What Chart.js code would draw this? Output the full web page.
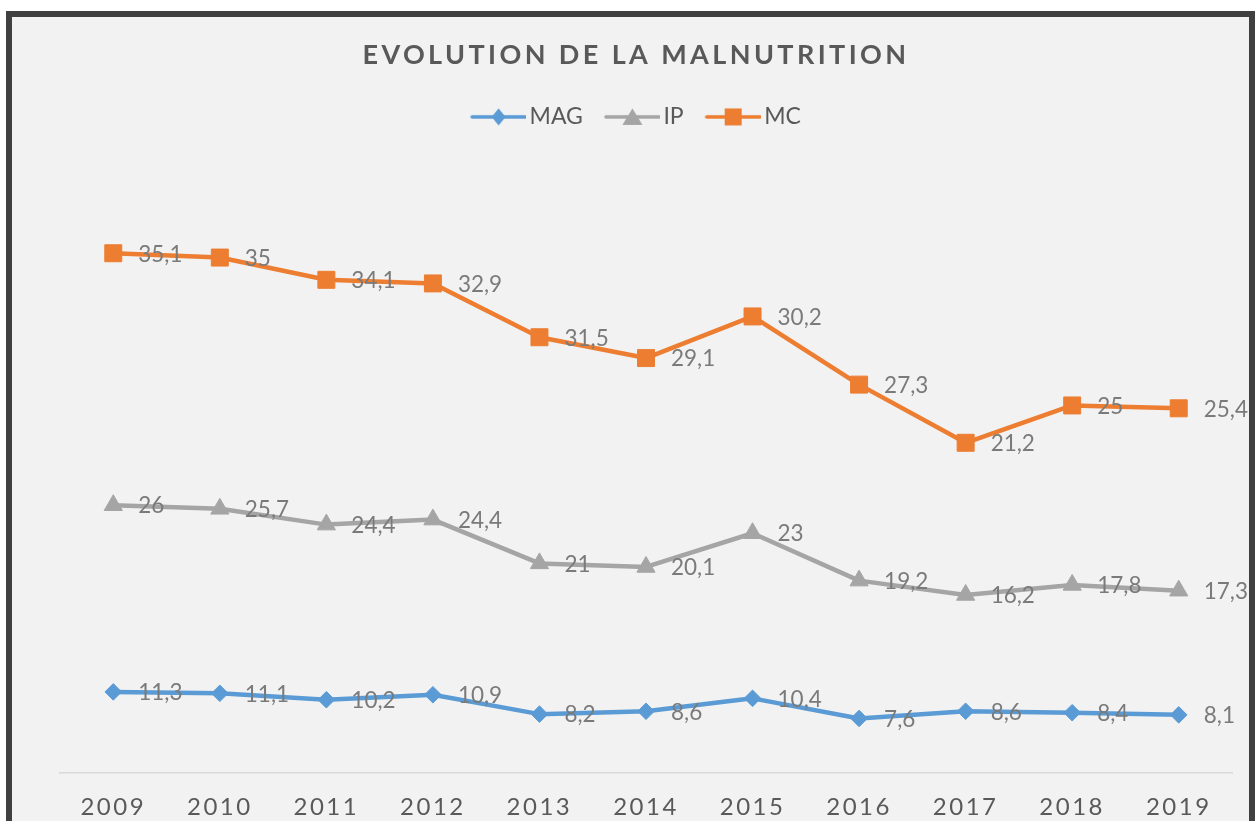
<!DOCTYPE html>
<html lang="fr">
<head>
<meta charset="utf-8">
<title>Evolution de la malnutrition</title>
<script src="https://cdn.jsdelivr.net/npm/chart.js@4.4.1/dist/chart.umd.min.js"></script>
<style>
    html, body { margin: 0; padding: 0; background: #ffffff; overflow: hidden; }
    #cadre {
        position: absolute;
        left: 6px;
        top: 11px;
        width: 1237px;
        height: 830px;
        border: 6px solid #404040;
        background: #f2f2f2;
    }
    #graphe { display: block; }
</style>
</head>
<body>
<div id="cadre">
    <canvas id="graphe" width="1237" height="804"></canvas>
</div>
<script>
// Données
const annees = ['2009', '2010', '2011', '2012', '2013', '2014', '2015', '2016', '2017', '2018', '2019'];
const mag = [11.3, 11.1, 10.2, 10.9, 8.2, 8.6, 10.4, 7.6, 8.6, 8.4, 8.1];
const ip = [26, 25.7, 24.4, 24.4, 21, 20.1, 23, 19.2, 16.2, 17.8, 17.3];
const mc = [35.1, 35, 34.1, 32.9, 31.5, 29.1, 30.2, 27.3, 21.2, 25, 25.4];

const bleu = '#5b9bd5';
const gris = '#a5a5a5';
const orange = '#ed7d31';
const texte = '#595959';
const police = 'Lato, "Open Sans", sans-serif';

// petite image ligne + marqueur pour la légende
function iconeLegende(couleur, forme) {
    const c = document.createElement('canvas');
    c.width = 63;
    c.height = 24;
    const ctx = c.getContext('2d');
    ctx.strokeStyle = couleur;
    ctx.fillStyle = couleur;
    ctx.lineWidth = 3.5;
    ctx.lineCap = 'round';
    ctx.beginPath();
    ctx.moveTo(9, 12);
    ctx.lineTo(62, 12);
    ctx.stroke();
    const cx = 35.5, cy = 12;
    ctx.beginPath();
    if (forme === 'losange') {
        ctx.moveTo(cx, cy - 8.5);
        ctx.lineTo(cx + 7, cy);
        ctx.lineTo(cx, cy + 8.5);
        ctx.lineTo(cx - 7, cy);
    } else if (forme === 'triangle') {
        ctx.moveTo(cx, cy - 8.5);
        ctx.lineTo(cx + 10, cy + 8);
        ctx.lineTo(cx - 10, cy + 8);
    } else {
        ctx.rect(cx - 8.5, cy - 8.5, 17, 17);
    }
    ctx.closePath();
    ctx.fill();
    return c;
}

const icones = [iconeLegende(bleu, 'losange'), iconeLegende(gris, 'triangle'), iconeLegende(orange, 'carre')];

function virgule(v) {
    return String(v).replace('.', ',');
}

// étiquettes de valeurs à droite des points
const etiquettes = {
    id: 'etiquettes',
    afterDatasetsDraw(chart) {
        const ctx = chart.ctx;
        ctx.save();
        ctx.font = '22.5px ' + police;
        ctx.fillStyle = '#7a7a7a';
        ctx.textAlign = 'left';
        ctx.textBaseline = 'middle';
        chart.data.datasets.forEach((ds, i) => {
            const meta = chart.getDatasetMeta(i);
            meta.data.forEach((pt, j) => {
                ctx.fillText(virgule(ds.data[j]), pt.x + 25, pt.y + 1);
            });
        });
        ctx.restore();
    }
};

// espacement des lettres pour le titre et l'axe
function espacer(obj, nom, px) {
    if (!obj || obj['_espace_' + nom]) return;
    const orig = obj[nom];
    obj[nom] = function (...args) {
        const ctx = this.ctx;
        const avant = ctx.letterSpacing;
        ctx.letterSpacing = px;
        orig.apply(this, args);
        ctx.letterSpacing = avant || '0px';
    };
    obj['_espace_' + nom] = true;
}

const espacement = {
    id: 'espacement',
    beforeDraw(chart) {
        espacer(chart.titleBlock, 'draw', '3.4px');
        espacer(chart.scales.x, 'drawLabels', '2.5px');
    }
};

new Chart(document.getElementById('graphe'), {
    type: 'line',
    data: {
        labels: annees,
        datasets: [
            { label: 'MAG', data: mag, borderColor: bleu, backgroundColor: bleu, pointStyle: 'rectRot', pointRadius: 8.3, pointBorderWidth: 1 },
            { label: 'IP', data: ip, borderColor: gris, backgroundColor: gris, pointStyle: 'triangle', pointRadius: 10.5, pointBorderWidth: 1 },
            { label: 'MC', data: mc, borderColor: orange, backgroundColor: orange, pointStyle: 'rect', pointRadius: 12, pointBorderWidth: 1 }
        ].map(d => Object.assign(d, { borderWidth: 4.5, tension: 0, fill: false, borderJoinStyle: 'round', borderCapStyle: 'round' }))
    },
    options: {
        responsive: false,
        animation: false,
        events: [],
        layout: { padding: { left: 28, right: 17, top: 0, bottom: 0 } },
        scales: {
            x: {
                offset: true,
                grid: { drawOnChartArea: false, drawTicks: false },
                border: { display: true, color: '#d9d9d9', width: 1.5 },
                ticks: { color: texte, font: { family: police, size: 24 }, padding: 20 },
                afterFit(s) { s.height = 48; }
            },
            y: {
                stacked: true,
                min: 0,
                max: 88.4,
                grid: { display: false },
                border: { display: false },
                ticks: { display: false },
                afterFit(s) { s.width = 20; }
            }
        },
        plugins: {
            title: {
                display: true,
                text: 'EVOLUTION DE LA MALNUTRITION',
                color: texte,
                font: { family: police, size: 27, weight: 'bold' },
                padding: { top: 22, bottom: 12 }
            },
            legend: {
                display: true,
                labels: {
                    usePointStyle: true,
                    pointStyleWidth: 47,
                    padding: 22,
                    color: texte,
                    font: { family: police, size: 23 },
                    generateLabels(chart) {
                        return chart.data.datasets.map((ds, i) => ({
                            text: ds.label,
                            pointStyle: icones[i],
                            fillStyle: ds.borderColor,
                            strokeStyle: ds.borderColor,
                            lineWidth: 0,
                            fontColor: texte,
                            hidden: false,
                            datasetIndex: i
                        }));
                    }
                }
            },
            tooltip: { enabled: false }
        }
    },
    plugins: [etiquettes, espacement]
});
</script>
</body>
</html>
